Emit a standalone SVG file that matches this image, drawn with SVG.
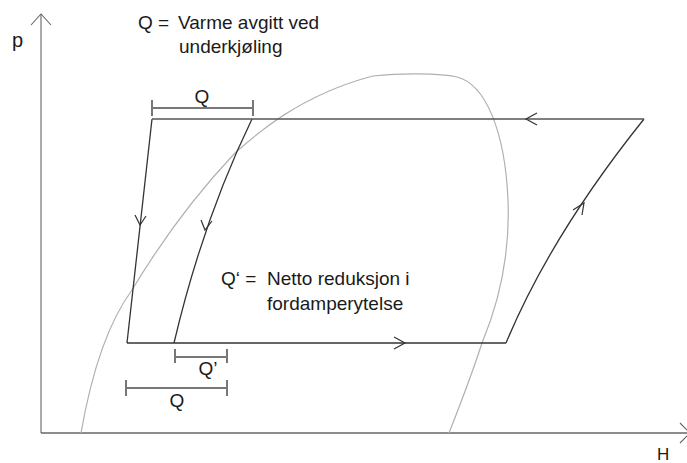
<svg xmlns="http://www.w3.org/2000/svg" width="687" height="463" viewBox="0 0 687 463">
<defs>
<style>
text{font-family:"Liberation Sans","Open Sans",Arial,sans-serif;fill:#1a1a1a;}
.lbl{font-size:19px;}
.axis{stroke:#666;stroke-width:1.1;fill:none;}
.cyc{stroke:#333;stroke-width:1.3;fill:none;}
.dome{stroke:#b0b0b0;stroke-width:1.2;fill:none;}
.chev{stroke:#333;stroke-width:1.2;fill:none;stroke-linejoin:miter;}
.brk{stroke:#777;stroke-width:2;fill:none;}
</style>
</defs>
<rect width="687" height="463" fill="#fff"/>
<g id="axes">
<line class="axis" x1="41" y1="433" x2="41" y2="14"/>
<polyline class="axis" points="31,25 41,14 51,25"/>
<line class="axis" x1="41" y1="433" x2="690" y2="433" style="stroke-width:1.6"/>
<polyline class="axis" points="680,423 690,433 680,443"/>
<text x="12" y="47" style="font-size:20px">p</text>
<text x="657" y="460" style="font-size:17px">H</text>
</g>
<g id="dome">
<path class="dome" d="M81,433 C92,370 110,320 132,290 C165,235 200,190 235,153 C255,135 300,95 373,76 C400,73 440,73 457,77 C485,84 505,130 508,200 C510,250 500,300 482,343 C470,380 458,410 449,433"/>
</g>
<g id="connectors">
<line class="cyc" x1="152" y1="119" x2="127" y2="343"/>
<path class="cyc" d="M252,119 Q203,220 174,343"/>
<line class="cyc" x1="127" y1="343" x2="506" y2="343"/>
<path class="cyc" d="M506,343 Q551,235 644,119"/>
<line class="cyc" x1="644" y1="119" x2="152" y2="119" style="stroke:#555"/>
<polyline class="chev" points="135,215 140,225 146,216"/>
<polyline class="chev" points="201,220 205,230 212,221"/>
<polyline class="chev" points="394,337 405,343 394,349"/>
<polyline class="chev" points="537,113 526,119 537,125"/>
<polyline class="chev" points="573,210 584,203 582,215"/>
</g>
<g id="bracket-top">
<path class="brk" d="M152,108 H253 M152,100 V116 M253,100 V116"/>
<text class="lbl" x="202" y="103" text-anchor="middle">Q</text>
</g>
<g id="bracket-qprime">
<path class="brk" d="M175,357 H227 M175,349 V363 M227,349 V363"/>
<text class="lbl" x="208" y="375" text-anchor="middle">Q’</text>
</g>
<g id="bracket-bottom">
<path class="brk" d="M126,388 H227 M126,380 V396 M227,380 V396"/>
<text class="lbl" x="177" y="407" text-anchor="middle">Q</text>
</g>
<g id="label-q">
<text class="lbl" x="138" y="29">Q =</text>
<text class="lbl" x="178" y="29">Varme avgitt ved</text>
<text class="lbl" x="179" y="53">underkjøling</text>
</g>
<g id="label-qprime">
<text class="lbl" x="221" y="285">Q‘ =</text>
<text class="lbl" x="267" y="285">Netto reduksjon i</text>
<text class="lbl" x="267" y="310">fordamperytelse</text>
</g>
</svg>
